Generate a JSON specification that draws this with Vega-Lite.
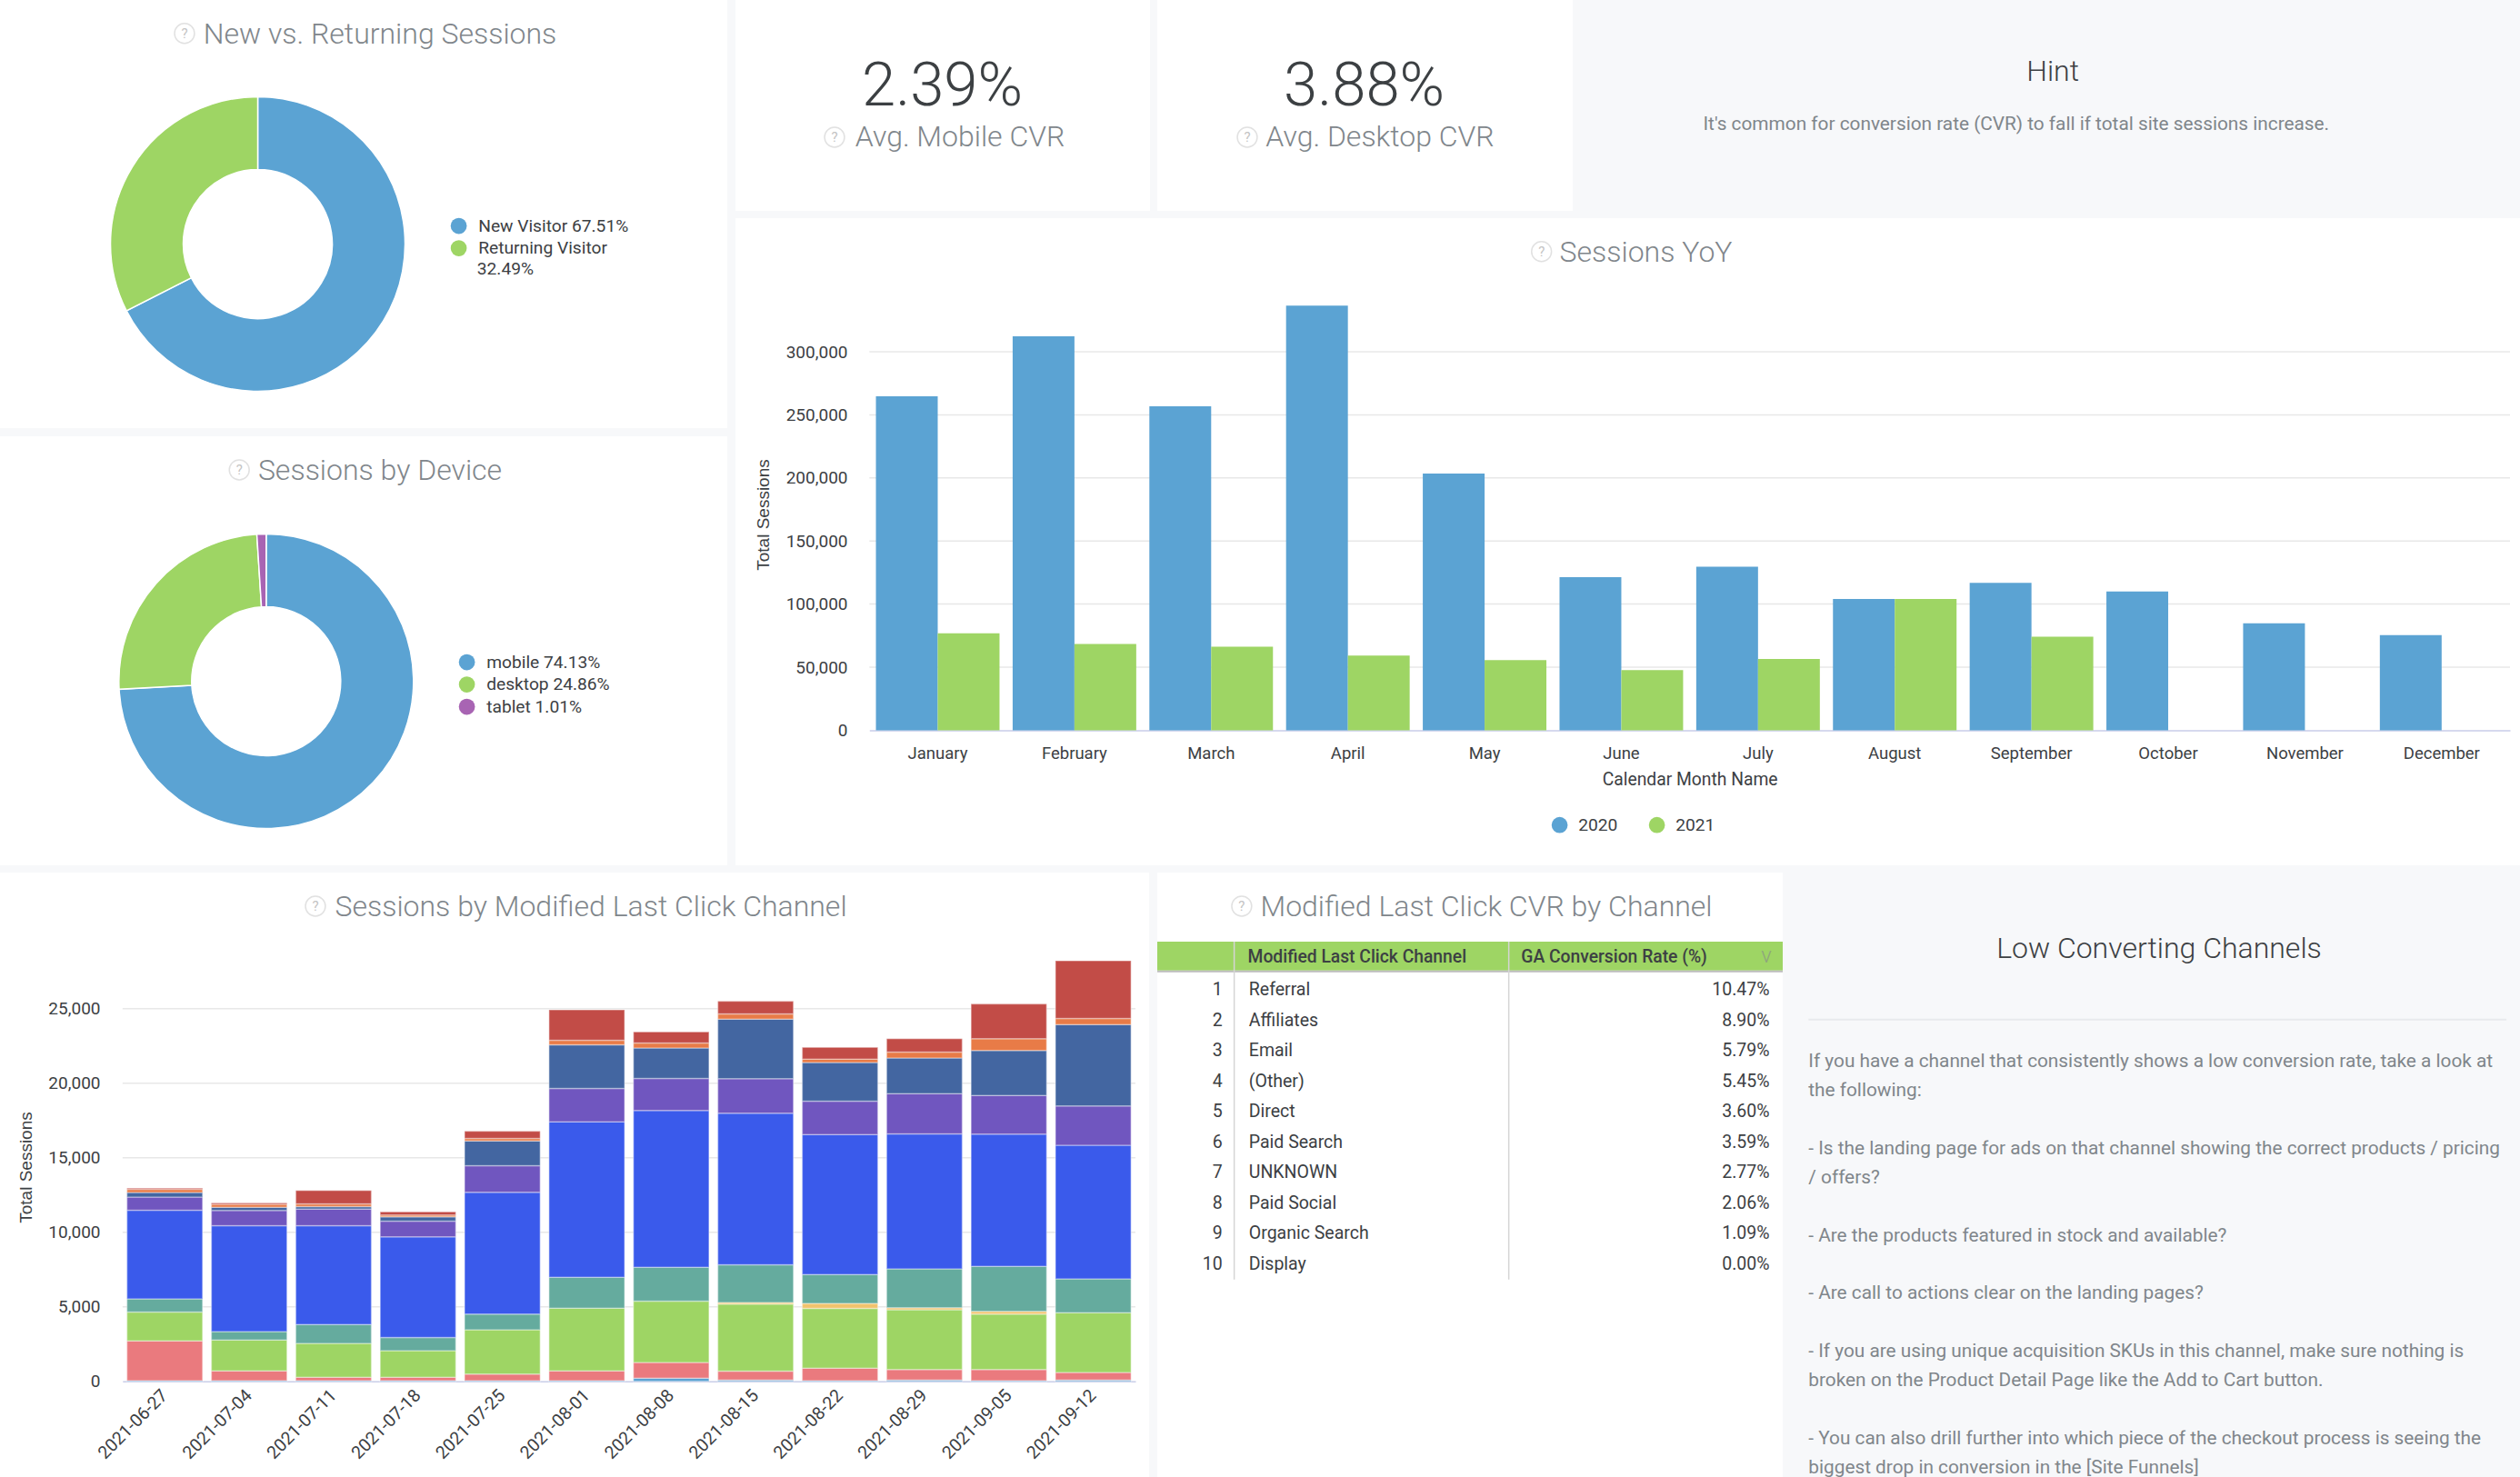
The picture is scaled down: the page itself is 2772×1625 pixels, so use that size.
{"$schema":"https://vega.github.io/schema/vega-lite/v6.json","padding":0,"background":"#f7f8fa","spacing":8,"resolve":{"scale":{"color":"independent"},"legend":{"color":"independent"}},"config":{"font":"Roboto","view":{"stroke":null},"title":{"font":"Roboto","fontSize":32,"fontWeight":300,"color":"#80868b","anchor":"middle","frame":"group"},"axis":{"labelFont":"Roboto","labelFontSize":19,"labelColor":"#3c4043","titleFont":"Liberation Sans","titleFontSize":19,"titleFontWeight":"normal","titleColor":"#3c4043","ticks":false,"grid":false,"domain":false},"legend":{"labelFont":"Roboto","labelFontSize":19.2,"labelColor":"#3c4043","labelLimit":400,"symbolType":"circle","symbolSize":314,"symbolStrokeWidth":0,"padding":0,"title":null,"orient":"none"}},
"vconcat":[
{"resolve":{"scale":{"color":"independent"},"legend":{"color":"independent"}},"hconcat":[
{"resolve":{"scale":{"color":"independent"},"legend":{"color":"independent"}},"vconcat":[
{"width":800,"height":471,"view":{"fill":"#ffffff"},"title":{"text":"New vs. Returning Sessions","offset":-55,"dx":18},
"layer":[
{"data":{"values":[{"segment":"New Visitor 67.51%","share":67.51,"rank":1},{"segment":"Returning Visitor 32.49%","share":32.49,"rank":2}]},"mark":{"type":"arc","innerRadius":82,"outerRadius":162,"stroke":"#ffffff","strokeWidth":1.5},"encoding":{"x":{"datum":0.3544,"scale":{"domain":[0,1]},"axis":null},"y":{"datum":0.57,"scale":{"domain":[1,0]},"axis":null},"theta":{"field":"share","type":"quantitative","stack":true},"order":{"field":"rank"},"color":{"field":"segment","type":"nominal","scale":{"domain":["New Visitor 67.51%","Returning Visitor 32.49%"],"range":["#5ba3d3","#9ed564"]},"legend":{"legendX":495,"legendY":239,"rowPadding":4.5,"symbolSize":314,"labelOffset":12,"labelExpr":"datum.label == 'Returning Visitor 32.49%' ? 'Returning Visitor' : datum.label"}}}},
{"data":{"values":[{"wrapped":"32.49%"}]},"mark":{"type":"text","align":"left","fontSize":19.2,"color":"#3c4043"},"encoding":{"text":{"field":"wrapped"},"x":{"datum":0.656,"scale":{"domain":[0,1]},"axis":null},"y":{"datum":0.6285,"scale":{"domain":[1,0]},"axis":null}}},
{"data":{"values":[{"icon":"?"}]},"mark":{"type":"point","filled":false,"stroke":"#d5d5d5","strokeWidth":1.5,"size":480},"encoding":{"x":{"datum":0.2537,"scale":{"domain":[0,1]},"axis":null},"y":{"datum":0.078,"scale":{"domain":[1,0]},"axis":null}}},
{"data":{"values":[{"icon":"?"}]},"mark":{"type":"text","color":"#c4c4c4","fontSize":15},"encoding":{"text":{"field":"icon"},"x":{"datum":0.2537,"scale":{"domain":[0,1]},"axis":null},"y":{"datum":0.078,"scale":{"domain":[1,0]},"axis":null}}}
]},
{"width":800,"height":472,"view":{"fill":"#ffffff"},"title":{"text":"Sessions by Device","offset":-55,"dx":18},
"layer":[
{"data":{"values":[{"segment":"mobile 74.13%","share":74.13,"rank":1},{"segment":"desktop 24.86%","share":24.86,"rank":2},{"segment":"tablet 1.01%","share":1.01,"rank":3}]},"mark":{"type":"arc","innerRadius":82,"outerRadius":162,"stroke":"#ffffff","strokeWidth":1.5},"encoding":{"x":{"datum":0.366,"scale":{"domain":[0,1]},"axis":null},"y":{"datum":0.571,"scale":{"domain":[1,0]},"axis":null},"theta":{"field":"share","type":"quantitative","stack":true},"order":{"field":"rank"},"color":{"field":"segment","type":"nominal","scale":{"domain":["mobile 74.13%","desktop 24.86%","tablet 1.01%"],"range":["#5ba3d3","#9ed564","#a864b3"]},"legend":{"legendX":504,"legendY":239,"rowPadding":4.5,"symbolSize":314,"labelOffset":12}}}},
{"data":{"values":[{"icon":"?"}]},"mark":{"type":"point","filled":false,"stroke":"#d5d5d5","strokeWidth":1.5,"size":480},"encoding":{"x":{"datum":0.329,"scale":{"domain":[0,1]},"axis":null},"y":{"datum":0.0784,"scale":{"domain":[1,0]},"axis":null}}},
{"data":{"values":[{"icon":"?"}]},"mark":{"type":"text","color":"#c4c4c4","fontSize":15},"encoding":{"text":{"field":"icon"},"x":{"datum":0.329,"scale":{"domain":[0,1]},"axis":null},"y":{"datum":0.0784,"scale":{"domain":[1,0]},"axis":null}}}
]}
],"spacing":9},
{"resolve":{"scale":{"color":"independent"},"legend":{"color":"independent"}},"vconcat":[
{"hconcat":[
{"width":456,"height":232,"view":{"fill":"#ffffff"},"data":{"values":[{"metric":"Avg. Mobile CVR","cvr":0.0239,"icon":"?"}]},
"layer":[
{"mark":{"type":"text","fontSize":67,"fontWeight":300,"color":"#3c4043"},"encoding":{"text":{"field":"cvr","type":"quantitative","format":".2%"},"x":{"datum":0.499,"scale":{"domain":[0,1]},"axis":null},"y":{"datum":0.412,"scale":{"domain":[1,0]},"axis":null}}},
{"mark":{"type":"text","fontSize":32,"fontWeight":300,"color":"#80868b"},"encoding":{"text":{"field":"metric"},"x":{"datum":0.5417,"scale":{"domain":[0,1]},"axis":null},"y":{"datum":0.651,"scale":{"domain":[1,0]},"axis":null}}},
{"mark":{"type":"point","filled":false,"stroke":"#d5d5d5","strokeWidth":1.5,"size":480},"encoding":{"x":{"datum":0.239,"scale":{"domain":[0,1]},"axis":null},"y":{"datum":0.651,"scale":{"domain":[1,0]},"axis":null}}},
{"mark":{"type":"text","color":"#c4c4c4","fontSize":15},"encoding":{"text":{"field":"icon"},"x":{"datum":0.239,"scale":{"domain":[0,1]},"axis":null},"y":{"datum":0.651,"scale":{"domain":[1,0]},"axis":null}}}
]},
{"width":457,"height":232,"view":{"fill":"#ffffff"},"data":{"values":[{"metric":"Avg. Desktop CVR","cvr":0.0388,"icon":"?"}]},
"layer":[
{"mark":{"type":"text","fontSize":67,"fontWeight":300,"color":"#3c4043"},"encoding":{"text":{"field":"cvr","type":"quantitative","format":".2%"},"x":{"datum":0.498,"scale":{"domain":[0,1]},"axis":null},"y":{"datum":0.412,"scale":{"domain":[1,0]},"axis":null}}},
{"mark":{"type":"text","fontSize":32,"fontWeight":300,"color":"#80868b"},"encoding":{"text":{"field":"metric"},"x":{"datum":0.536,"scale":{"domain":[0,1]},"axis":null},"y":{"datum":0.651,"scale":{"domain":[1,0]},"axis":null}}},
{"mark":{"type":"point","filled":false,"stroke":"#d5d5d5","strokeWidth":1.5,"size":480},"encoding":{"x":{"datum":0.2166,"scale":{"domain":[0,1]},"axis":null},"y":{"datum":0.651,"scale":{"domain":[1,0]},"axis":null}}},
{"mark":{"type":"text","color":"#c4c4c4","fontSize":15},"encoding":{"text":{"field":"icon"},"x":{"datum":0.2166,"scale":{"domain":[0,1]},"axis":null},"y":{"datum":0.651,"scale":{"domain":[1,0]},"axis":null}}}
]},
{"width":1034,"height":232,"data":{"values":[{"heading":"Hint","note":"It's common for conversion rate (CVR) to fall if total site sessions increase."}]},
"layer":[
{"mark":{"type":"text","fontSize":32,"fontWeight":300,"color":"#3c4043"},"encoding":{"text":{"field":"heading"},"x":{"datum":0.503,"scale":{"domain":[0,1]},"axis":null},"y":{"datum":0.342,"scale":{"domain":[1,0]},"axis":null}}},
{"mark":{"type":"text","fontSize":20.8,"color":"#80868b"},"encoding":{"text":{"field":"note"},"x":{"datum":0.464,"scale":{"domain":[0,1]},"axis":null},"y":{"datum":0.59,"scale":{"domain":[1,0]},"axis":null}}}
]}
],"spacing":8},
{"width":1963,"height":712,"view":{"fill":"#ffffff"},"title":{"text":"Sessions YoY","offset":-55,"dx":20},"resolve":{"scale":{"x":"independent","y":"independent"}},
"layer":[
{"data":{"values":[{"tick":50000},{"tick":100000},{"tick":150000},{"tick":200000},{"tick":250000},{"tick":300000}]},"mark":{"type":"rule","color":"#e8e8e8","strokeWidth":1.5},"encoding":{"x":{"datum":0,"scale":{"domain":[0,1],"range":[147.3,1952]},"axis":null},"x2":{"datum":1},"y":{"field":"tick","type":"quantitative","scale":{"domain":[0,300000],"range":[563.4,147]},"axis":null}}},
{"data":{"values":[{"month":"January","year":"2020","sessions":264700},{"month":"February","year":"2020","sessions":312300},{"month":"March","year":"2020","sessions":256800},{"month":"April","year":"2020","sessions":336600},{"month":"May","year":"2020","sessions":203400},{"month":"June","year":"2020","sessions":121300},{"month":"July","year":"2020","sessions":129700},{"month":"August","year":"2020","sessions":104100},{"month":"September","year":"2020","sessions":116900},{"month":"October","year":"2020","sessions":109900},{"month":"November","year":"2020","sessions":84700},{"month":"December","year":"2020","sessions":75400},{"month":"January","year":"2021","sessions":76800},{"month":"February","year":"2021","sessions":68400},{"month":"March","year":"2021","sessions":66200},{"month":"April","year":"2021","sessions":59100},{"month":"May","year":"2021","sessions":55600},{"month":"June","year":"2021","sessions":47600},{"month":"July","year":"2021","sessions":56500},{"month":"August","year":"2021","sessions":104100},{"month":"September","year":"2021","sessions":74100}]},"mark":{"type":"bar"},"encoding":{"x":{"field":"month","type":"nominal","sort":["January","February","March","April","May","June","July","August","September","October","November","December"],"scale":{"range":[147.3,1952],"paddingInner":0.096,"paddingOuter":0.048},"axis":{"title":"Calendar Month Name","titleFont":"Roboto","titleFontSize":19.3,"orient":"bottom","offset":-148.6,"labelAngle":0,"labelPadding":16,"titlePadding":11,"domain":true,"domainColor":"#c9cde8","domainWidth":1.5,"labelFontSize":18.5}},"xOffset":{"field":"year","type":"nominal"},"y":{"field":"sessions","type":"quantitative","stack":null,"scale":{"domain":[0,300000],"range":[563.4,147]},"axis":{"title":"Total Sessions","orient":"left","offset":-130,"labelPadding":7,"values":[0,50000,100000,150000,200000,250000,300000],"format":",.0f","titleX":-90,"titleY":326}},"color":{"field":"year","type":"nominal","scale":{"domain":["2020","2021"],"range":["#5ba3d3","#9ed564"]},"legend":{"direction":"horizontal","legendX":897,"legendY":658,"columnPadding":33,"symbolSize":314,"labelOffset":11}}}},
{"data":{"values":[{"icon":"?"}]},"mark":{"type":"point","filled":false,"stroke":"#d5d5d5","strokeWidth":1.5,"size":480},"encoding":{"x":{"datum":0.4517,"scale":{"domain":[0,1]},"axis":null},"y":{"datum":0.0517,"scale":{"domain":[1,0]},"axis":null}}},
{"data":{"values":[{"icon":"?"}]},"mark":{"type":"text","color":"#c4c4c4","fontSize":15},"encoding":{"text":{"field":"icon"},"x":{"datum":0.4517,"scale":{"domain":[0,1]},"axis":null},"y":{"datum":0.0517,"scale":{"domain":[1,0]},"axis":null}}}
]}
],"spacing":8}
],"spacing":9},
{"resolve":{"scale":{"color":"independent"},"legend":{"color":"independent"}},"hconcat":[
{"width":1264,"height":665,"view":{"fill":"#ffffff"},"title":{"text":"Sessions by Modified Last Click Channel","offset":-55,"dx":18},"resolve":{"scale":{"x":"independent","y":"independent"}},
"layer":[
{"data":{"values":[{"tick":5000},{"tick":10000},{"tick":15000},{"tick":20000},{"tick":25000}]},"mark":{"type":"rule","color":"#e8e8e8","strokeWidth":1.5},"encoding":{"x":{"datum":0,"scale":{"domain":[0,1],"range":[134.8,1249]},"axis":null},"x2":{"datum":1},"y":{"field":"tick","type":"quantitative","scale":{"domain":[0,25000],"range":[559.8,149.7]},"axis":null}}},
{"data":{"values":[
{"week":"2021-06-27","channel":"UNKNOWN","rank":1,"sessions":50},{"week":"2021-06-27","channel":"Display","rank":2,"sessions":2660},{"week":"2021-06-27","channel":"Paid Social","rank":3,"sessions":1940},{"week":"2021-06-27","channel":"Affiliates","rank":5,"sessions":880},{"week":"2021-06-27","channel":"Organic Search","rank":6,"sessions":5950},{"week":"2021-06-27","channel":"Direct","rank":7,"sessions":880},{"week":"2021-06-27","channel":"Paid Search","rank":8,"sessions":310},{"week":"2021-06-27","channel":"Referral","rank":9,"sessions":210},{"week":"2021-06-27","channel":"Email","rank":10,"sessions":80},
{"week":"2021-07-04","channel":"UNKNOWN","rank":1,"sessions":50},{"week":"2021-07-04","channel":"Display","rank":2,"sessions":650},{"week":"2021-07-04","channel":"Paid Social","rank":3,"sessions":2070},{"week":"2021-07-04","channel":"Affiliates","rank":5,"sessions":570},{"week":"2021-07-04","channel":"Organic Search","rank":6,"sessions":7110},{"week":"2021-07-04","channel":"Direct","rank":7,"sessions":1010},{"week":"2021-07-04","channel":"Paid Search","rank":8,"sessions":210},{"week":"2021-07-04","channel":"Referral","rank":9,"sessions":210},{"week":"2021-07-04","channel":"Email","rank":10,"sessions":80},
{"week":"2021-07-11","channel":"UNKNOWN","rank":1,"sessions":50},{"week":"2021-07-11","channel":"Display","rank":2,"sessions":230},{"week":"2021-07-11","channel":"Paid Social","rank":3,"sessions":2270},{"week":"2021-07-11","channel":"Affiliates","rank":5,"sessions":1270},{"week":"2021-07-11","channel":"Organic Search","rank":6,"sessions":6620},{"week":"2021-07-11","channel":"Direct","rank":7,"sessions":1110},{"week":"2021-07-11","channel":"Paid Search","rank":8,"sessions":180},{"week":"2021-07-11","channel":"Referral","rank":9,"sessions":180},{"week":"2021-07-11","channel":"Email","rank":10,"sessions":900},
{"week":"2021-07-18","channel":"UNKNOWN","rank":1,"sessions":50},{"week":"2021-07-18","channel":"Display","rank":2,"sessions":230},{"week":"2021-07-18","channel":"Paid Social","rank":3,"sessions":1780},{"week":"2021-07-18","channel":"Affiliates","rank":5,"sessions":880},{"week":"2021-07-18","channel":"Organic Search","rank":6,"sessions":6750},{"week":"2021-07-18","channel":"Direct","rank":7,"sessions":1060},{"week":"2021-07-18","channel":"Paid Search","rank":8,"sessions":280},{"week":"2021-07-18","channel":"Referral","rank":9,"sessions":130},{"week":"2021-07-18","channel":"Email","rank":10,"sessions":210},
{"week":"2021-07-25","channel":"UNKNOWN","rank":1,"sessions":50},{"week":"2021-07-25","channel":"Display","rank":2,"sessions":440},{"week":"2021-07-25","channel":"Paid Social","rank":3,"sessions":2970},{"week":"2021-07-25","channel":"Affiliates","rank":5,"sessions":1060},{"week":"2021-07-25","channel":"Organic Search","rank":6,"sessions":8170},{"week":"2021-07-25","channel":"Direct","rank":7,"sessions":1780},{"week":"2021-07-25","channel":"Paid Search","rank":8,"sessions":1650},{"week":"2021-07-25","channel":"Referral","rank":9,"sessions":180},{"week":"2021-07-25","channel":"Email","rank":10,"sessions":490},
{"week":"2021-08-01","channel":"UNKNOWN","rank":1,"sessions":50},{"week":"2021-08-01","channel":"Display","rank":2,"sessions":650},{"week":"2021-08-01","channel":"Paid Social","rank":3,"sessions":4210},{"week":"2021-08-01","channel":"Affiliates","rank":5,"sessions":2070},{"week":"2021-08-01","channel":"Organic Search","rank":6,"sessions":10420},{"week":"2021-08-01","channel":"Direct","rank":7,"sessions":2250},{"week":"2021-08-01","channel":"Paid Search","rank":8,"sessions":2920},{"week":"2021-08-01","channel":"Referral","rank":9,"sessions":310},{"week":"2021-08-01","channel":"Email","rank":10,"sessions":2040},
{"week":"2021-08-08","channel":"UNKNOWN","rank":1,"sessions":210},{"week":"2021-08-08","channel":"Display","rank":2,"sessions":1060},{"week":"2021-08-08","channel":"Paid Social","rank":3,"sessions":4110},{"week":"2021-08-08","channel":"Affiliates","rank":5,"sessions":2270},{"week":"2021-08-08","channel":"Organic Search","rank":6,"sessions":10520},{"week":"2021-08-08","channel":"Direct","rank":7,"sessions":2150},{"week":"2021-08-08","channel":"Paid Search","rank":8,"sessions":2040},{"week":"2021-08-08","channel":"Referral","rank":9,"sessions":340},{"week":"2021-08-08","channel":"Email","rank":10,"sessions":750},
{"week":"2021-08-15","channel":"UNKNOWN","rank":1,"sessions":100},{"week":"2021-08-15","channel":"Display","rank":2,"sessions":590},{"week":"2021-08-15","channel":"Paid Social","rank":3,"sessions":4500},{"week":"2021-08-15","channel":"(Other)","rank":4,"sessions":100},{"week":"2021-08-15","channel":"Affiliates","rank":5,"sessions":2530},{"week":"2021-08-15","channel":"Organic Search","rank":6,"sessions":10160},{"week":"2021-08-15","channel":"Direct","rank":7,"sessions":2330},{"week":"2021-08-15","channel":"Paid Search","rank":8,"sessions":3980},{"week":"2021-08-15","channel":"Referral","rank":9,"sessions":360},{"week":"2021-08-15","channel":"Email","rank":10,"sessions":850},
{"week":"2021-08-22","channel":"UNKNOWN","rank":1,"sessions":50},{"week":"2021-08-22","channel":"Display","rank":2,"sessions":830},{"week":"2021-08-22","channel":"Paid Social","rank":3,"sessions":4010},{"week":"2021-08-22","channel":"(Other)","rank":4,"sessions":340},{"week":"2021-08-22","channel":"Affiliates","rank":5,"sessions":1940},{"week":"2021-08-22","channel":"Organic Search","rank":6,"sessions":9380},{"week":"2021-08-22","channel":"Direct","rank":7,"sessions":2250},{"week":"2021-08-22","channel":"Paid Search","rank":8,"sessions":2590},{"week":"2021-08-22","channel":"Referral","rank":9,"sessions":230},{"week":"2021-08-22","channel":"Email","rank":10,"sessions":780},
{"week":"2021-08-29","channel":"UNKNOWN","rank":1,"sessions":100},{"week":"2021-08-29","channel":"Display","rank":2,"sessions":700},{"week":"2021-08-29","channel":"Paid Social","rank":3,"sessions":4010},{"week":"2021-08-29","channel":"(Other)","rank":4,"sessions":130},{"week":"2021-08-29","channel":"Affiliates","rank":5,"sessions":2610},{"week":"2021-08-29","channel":"Organic Search","rank":6,"sessions":9050},{"week":"2021-08-29","channel":"Direct","rank":7,"sessions":2690},{"week":"2021-08-29","channel":"Paid Search","rank":8,"sessions":2400},{"week":"2021-08-29","channel":"Referral","rank":9,"sessions":390},{"week":"2021-08-29","channel":"Email","rank":10,"sessions":900},
{"week":"2021-09-05","channel":"UNKNOWN","rank":1,"sessions":50},{"week":"2021-09-05","channel":"Display","rank":2,"sessions":750},{"week":"2021-09-05","channel":"Paid Social","rank":3,"sessions":3720},{"week":"2021-09-05","channel":"(Other)","rank":4,"sessions":180},{"week":"2021-09-05","channel":"Affiliates","rank":5,"sessions":3020},{"week":"2021-09-05","channel":"Organic Search","rank":6,"sessions":8870},{"week":"2021-09-05","channel":"Direct","rank":7,"sessions":2590},{"week":"2021-09-05","channel":"Paid Search","rank":8,"sessions":3020},{"week":"2021-09-05","channel":"Referral","rank":9,"sessions":780},{"week":"2021-09-05","channel":"Email","rank":10,"sessions":2330},
{"week":"2021-09-12","channel":"UNKNOWN","rank":1,"sessions":100},{"week":"2021-09-12","channel":"Display","rank":2,"sessions":490},{"week":"2021-09-12","channel":"Paid Social","rank":3,"sessions":4010},{"week":"2021-09-12","channel":"Affiliates","rank":5,"sessions":2270},{"week":"2021-09-12","channel":"Organic Search","rank":6,"sessions":8970},{"week":"2021-09-12","channel":"Direct","rank":7,"sessions":2640},{"week":"2021-09-12","channel":"Paid Search","rank":8,"sessions":5450},{"week":"2021-09-12","channel":"Referral","rank":9,"sessions":410},{"week":"2021-09-12","channel":"Email","rank":10,"sessions":3880}
]},"mark":{"type":"bar","stroke":"#ffffff","strokeOpacity":0.35,"strokeWidth":1.5},"encoding":{"x":{"field":"week","type":"ordinal","scale":{"range":[134.8,1249],"paddingInner":0.104,"paddingOuter":0.052},"axis":{"title":null,"orient":"bottom","offset":-105.2,"labelAngle":-45,"labelAlign":"right","labelBaseline":"middle","labelPadding":12,"labelFontSize":19.5,"domain":true,"domainColor":"#c9cde8","domainWidth":1.5}},"y":{"field":"sessions","type":"quantitative","stack":"zero","scale":{"domain":[0,25000],"range":[559.8,149.7]},"axis":{"title":"Total Sessions","orient":"left","offset":-118,"labelPadding":8,"values":[0,5000,10000,15000,20000,25000],"format":",.0f","titleX":-80,"titleY":324}},"order":{"field":"rank","type":"quantitative"},"color":{"field":"channel","type":"nominal","scale":{"domain":["UNKNOWN","Display","Paid Social","(Other)","Affiliates","Organic Search","Direct","Paid Search","Referral","Email"],"range":["#5ba3d3","#ea7a7e","#9ed564","#f1c36d","#65ab9e","#3a5aeb","#7056bf","#4366a1","#e87b47","#c24c47"]},"legend":null}}},
{"data":{"values":[{"icon":"?"}]},"mark":{"type":"point","filled":false,"stroke":"#d5d5d5","strokeWidth":1.5,"size":480},"encoding":{"x":{"datum":0.2745,"scale":{"domain":[0,1]},"axis":null},"y":{"datum":0.0556,"scale":{"domain":[1,0]},"axis":null}}},
{"data":{"values":[{"icon":"?"}]},"mark":{"type":"text","color":"#c4c4c4","fontSize":15},"encoding":{"text":{"field":"icon"},"x":{"datum":0.2745,"scale":{"domain":[0,1]},"axis":null},"y":{"datum":0.0556,"scale":{"domain":[1,0]},"axis":null}}}
]},
{"width":688,"height":665,"view":{"fill":"#ffffff"},"title":{"text":"Modified Last Click CVR by Channel","offset":-55,"dx":18},
"layer":[
{"data":{"values":[{"band":"header"}]},"mark":{"type":"rect","color":"#9ed564"},"encoding":{"x":{"datum":0,"scale":{"domain":[0,1]},"axis":null},"x2":{"datum":1},"y":{"datum":-0.58,"scale":{"domain":[1,10],"range":[129,431]},"axis":null},"y2":{"datum":0.37}}},
{"data":{"values":[{"band":"header"}]},"mark":{"type":"rule","color":"#bdbdbd","strokeWidth":2},"encoding":{"x":{"datum":0,"scale":{"domain":[0,1]},"axis":null},"x2":{"datum":1},"y":{"datum":0.4,"scale":{"domain":[1,10],"range":[129,431]},"axis":null}}},
{"data":{"values":[{"sep":0.123},{"sep":0.562}]},"mark":{"type":"rule","color":"#d5d5d5","strokeWidth":1.5},"encoding":{"x":{"field":"sep","type":"quantitative","scale":{"domain":[0,1]},"axis":null},"y":{"datum":-0.58,"scale":{"domain":[1,10],"range":[129,431]},"axis":null},"y2":{"datum":10.5}}},
{"data":{"values":[{"heading":"Modified Last Click Channel"}]},"mark":{"type":"text","align":"left","fontSize":19.3,"fontWeight":500,"color":"#3c4043"},"encoding":{"text":{"field":"heading"},"x":{"datum":0.1447,"scale":{"domain":[0,1]},"axis":null},"y":{"datum":-0.07,"scale":{"domain":[1,10],"range":[129,431]},"axis":null}}},
{"data":{"values":[{"heading":"GA Conversion Rate (%)"}]},"mark":{"type":"text","align":"left","fontSize":19.3,"fontWeight":500,"color":"#3c4043"},"encoding":{"text":{"field":"heading"},"x":{"datum":0.5818,"scale":{"domain":[0,1]},"axis":null},"y":{"datum":-0.07,"scale":{"domain":[1,10],"range":[129,431]},"axis":null}}},
{"data":{"values":[{"sortmark":"v"}]},"mark":{"type":"text","fontSize":24,"fontWeight":300,"color":"#8fa57e"},"encoding":{"text":{"field":"sortmark"},"x":{"datum":0.974,"scale":{"domain":[0,1]},"axis":null},"y":{"datum":-0.1,"scale":{"domain":[1,10],"range":[129,431]},"axis":null}}},
{"data":{"name":"cvr","values":[{"row":1,"channel":"Referral","cvr":0.1047},{"row":2,"channel":"Affiliates","cvr":0.089},{"row":3,"channel":"Email","cvr":0.0579},{"row":4,"channel":"(Other)","cvr":0.0545},{"row":5,"channel":"Direct","cvr":0.036},{"row":6,"channel":"Paid Search","cvr":0.0359},{"row":7,"channel":"UNKNOWN","cvr":0.0277},{"row":8,"channel":"Paid Social","cvr":0.0206},{"row":9,"channel":"Organic Search","cvr":0.0109},{"row":10,"channel":"Display","cvr":0}]},"mark":{"type":"text","align":"right","fontSize":19.5,"color":"#3c4043"},"encoding":{"text":{"field":"row","type":"quantitative"},"x":{"datum":0.1042,"scale":{"domain":[0,1]},"axis":null},"y":{"field":"row","type":"quantitative","scale":{"domain":[1,10],"range":[129,431]},"axis":null}}},
{"data":{"name":"cvr"},"mark":{"type":"text","align":"left","fontSize":19.5,"color":"#3c4043"},"encoding":{"text":{"field":"channel"},"x":{"datum":0.1465,"scale":{"domain":[0,1]},"axis":null},"y":{"field":"row","type":"quantitative","scale":{"domain":[1,10],"range":[129,431]},"axis":null}}},
{"data":{"name":"cvr"},"mark":{"type":"text","align":"right","fontSize":19.5,"color":"#3c4043"},"encoding":{"text":{"field":"cvr","type":"quantitative","format":".2%"},"x":{"datum":0.979,"scale":{"domain":[0,1]},"axis":null},"y":{"field":"row","type":"quantitative","scale":{"domain":[1,10],"range":[129,431]},"axis":null}}},
{"data":{"values":[{"icon":"?"}]},"mark":{"type":"point","filled":false,"stroke":"#d5d5d5","strokeWidth":1.5,"size":480},"encoding":{"x":{"datum":0.135,"scale":{"domain":[0,1]},"axis":null},"y":{"datum":-1.74,"scale":{"domain":[1,10],"range":[129,431]},"axis":null}}},
{"data":{"values":[{"icon":"?"}]},"mark":{"type":"text","color":"#c4c4c4","fontSize":15},"encoding":{"text":{"field":"icon"},"x":{"datum":0.135,"scale":{"domain":[0,1]},"axis":null},"y":{"datum":-1.74,"scale":{"domain":[1,10],"range":[129,431]},"axis":null}}}
]},
{"width":804,"height":665,
"layer":[
{"data":{"values":[{"heading":"Low Converting Channels"}]},"mark":{"type":"text","fontSize":32,"fontWeight":300,"color":"#3c4043"},"encoding":{"text":{"field":"heading"},"x":{"datum":0.5037,"scale":{"domain":[0,1]},"axis":null},"y":{"datum":-3.88,"scale":{"domain":[0,14],"range":[208,655]},"axis":null}}},
{"data":{"values":[{"heading":"Low Converting Channels"}]},"mark":{"type":"rule","color":"#e8eaed","strokeWidth":2},"encoding":{"x":{"datum":0.024,"scale":{"domain":[0,1]},"axis":null},"x2":{"datum":0.979},"y":{"datum":-1.45,"scale":{"domain":[0,14],"range":[208,655]},"axis":null}}},
{"data":{"values":[{"line":0,"copy":"If you have a channel that consistently shows a low conversion rate, take a look at"},{"line":1,"copy":"the following:"},{"line":3,"copy":"- Is the landing page for ads on that channel showing the correct products / pricing"},{"line":4,"copy":"/ offers?"},{"line":6,"copy":"- Are the products featured in stock and available?"},{"line":8,"copy":"- Are call to actions clear on the landing pages?"},{"line":10,"copy":"- If you are using unique acquisition SKUs in this channel, make sure nothing is"},{"line":11,"copy":"broken on the Product Detail Page like the Add to Cart button."},{"line":13,"copy":"- You can also drill further into which piece of the checkout process is seeing the"},{"line":14,"copy":"biggest drop in conversion in the [Site Funnels]"}]},"mark":{"type":"text","align":"left","fontSize":20.8,"color":"#80868b"},"encoding":{"text":{"field":"copy"},"x":{"datum":0.024,"scale":{"domain":[0,1]},"axis":null},"y":{"field":"line","type":"quantitative","scale":{"domain":[0,14],"range":[208,655]},"axis":null}}}
]}
],"spacing":8}
]}
